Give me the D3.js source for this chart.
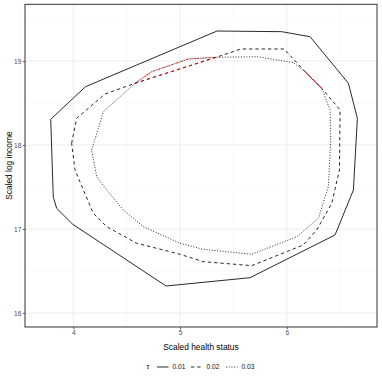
<!DOCTYPE html>
<html>
<head>
<meta charset="utf-8">
<script src="https://d3js.org/d3.v7.min.js"></script>
<style>
  body { margin: 0; background: #fff; }
  text { font-family: "Liberation Sans", Arial, sans-serif; }
</style>
</head>
<body>
<svg id="chart" width="382" height="382"></svg>
<script>
// tau levels and the contour for each one (health status, log income)
var tauLabels = ["0.01", "0.02", "0.03"];
var tauDash = ["none", "3.3,3", "1,1.7"];

var contour001 = [[3.788, 18.306], [4.114, 18.694], [5.347, 19.357], [5.953, 19.349],
  [6.219, 19.289], [6.578, 18.735], [6.662, 18.318], [6.625, 17.464], [6.453, 16.929],
  [5.656, 16.420], [4.869, 16.321], [3.994, 17.056], [3.844, 17.246], [3.812, 17.381]];

var contour002 = [[3.984, 18.020], [4.031, 18.318], [4.297, 18.607], [4.578, 18.735],
  [5.338, 19.044], [5.572, 19.143], [5.975, 19.143], [6.172, 18.873], [6.328, 18.675],
  [6.500, 18.417], [6.494, 17.702], [6.422, 17.306], [6.281, 16.988], [6.156, 16.810],
  [5.672, 16.563], [5.218, 16.611], [5.000, 16.699], [4.594, 16.830], [4.313, 17.027],
  [4.187, 17.187], [4.094, 17.464], [4.016, 17.702]];

var contour003 = [[4.172, 17.940], [4.281, 18.396], [4.578, 18.735], [4.735, 18.873],
  [5.078, 19.024], [5.338, 19.044], [5.728, 19.051], [6.062, 18.980], [6.172, 18.873],
  [6.328, 18.675], [6.406, 18.417], [6.412, 18.060], [6.390, 17.504], [6.297, 17.127],
  [6.094, 16.908], [5.672, 16.699], [5.218, 16.758], [5.000, 16.830], [4.656, 17.027],
  [4.469, 17.226], [4.313, 17.464], [4.219, 17.623]];

// pieces drawn in red
var redDashed = [
  [[4.578, 18.735], [5.338, 19.044]],
  [[6.172, 18.873], [6.328, 18.675]]
];
var redDotted = [
  [[4.578, 18.735], [4.735, 18.873], [5.078, 19.024], [5.338, 19.044]],
  [[6.172, 18.873], [6.328, 18.675]]
];

var xTicks = [4, 5, 6];
var yTicks = [16, 17, 18, 19];
var xMinor = [3.5, 4.5, 5.5, 6.5];
var yMinor = [16.5, 17.5, 18.5, 19.5];

var panel = {left: 25, top: 4.3, right: 377, bottom: 327};

var x = d3.scaleLinear().domain([3.547, 6.846]).range([panel.left, panel.right]);
var y = d3.scaleLinear().domain([15.833, 19.675]).range([panel.bottom, panel.top]);

var svg = d3.select('#chart');

// grid
var grid = svg.append('g');
grid.selectAll('.xminor').data(xMinor).enter().append('line')
  .attr('x1', d => x(d)).attr('x2', d => x(d))
  .attr('y1', panel.top).attr('y2', panel.bottom)
  .attr('stroke', '#F2F2F2').attr('stroke-width', 0.5);
grid.selectAll('.yminor').data(yMinor).enter().append('line')
  .attr('y1', d => y(d)).attr('y2', d => y(d))
  .attr('x1', panel.left).attr('x2', panel.right)
  .attr('stroke', '#F2F2F2').attr('stroke-width', 0.5);
grid.selectAll('.xmajor').data(xTicks).enter().append('line')
  .attr('x1', d => x(d)).attr('x2', d => x(d))
  .attr('y1', panel.top).attr('y2', panel.bottom)
  .attr('stroke', '#EBEBEB').attr('stroke-width', 0.9);
grid.selectAll('.ymajor').data(yTicks).enter().append('line')
  .attr('y1', d => y(d)).attr('y2', d => y(d))
  .attr('x1', panel.left).attr('x2', panel.right)
  .attr('stroke', '#EBEBEB').attr('stroke-width', 0.9);

// contours
var line = d3.line().x(d => x(d[0])).y(d => y(d[1]));
var contours = [contour001, contour002, contour003];
contours.forEach(function(c, i) {
  svg.append('path')
    .attr('d', line(c.concat([c[0]])))
    .attr('fill', 'none')
    .attr('stroke', '#111')
    .attr('stroke-width', 0.9)
    .attr('stroke-dasharray', tauDash[i] === 'none' ? null : tauDash[i]);
});

redDashed.forEach(function(seg) {
  svg.append('path').attr('d', line(seg))
    .attr('fill', 'none').attr('stroke', '#FF0000')
    .attr('stroke-width', 0.9).attr('stroke-dasharray', tauDash[1]);
});
redDotted.forEach(function(seg) {
  svg.append('path').attr('d', line(seg))
    .attr('fill', 'none').attr('stroke', '#FF0000')
    .attr('stroke-width', 0.9).attr('stroke-dasharray', tauDash[2]);
});

// panel border
svg.append('rect')
  .attr('x', panel.left).attr('y', panel.top)
  .attr('width', panel.right - panel.left).attr('height', panel.bottom - panel.top)
  .attr('fill', 'none').attr('stroke', '#333').attr('stroke-width', 1);

// axes
var xAxis = svg.append('g').attr('transform', 'translate(0,' + panel.bottom + ')')
  .call(d3.axisBottom(x).tickValues(xTicks).tickSize(2.2).tickPadding(1.5).tickFormat(d3.format('d')));
var yAxis = svg.append('g').attr('transform', 'translate(' + panel.left + ',0)')
  .call(d3.axisLeft(y).tickValues(yTicks).tickSize(2.2).tickPadding(1.5).tickFormat(d3.format('d')));
[xAxis, yAxis].forEach(function(a) {
  a.select('.domain').remove();
  a.selectAll('.tick line').attr('stroke', '#333').attr('stroke-width', 0.8);
  a.selectAll('.tick text').attr('fill', '#4D4D4D')
    .style('font-size', '6.6px').style('font-family', '"Liberation Sans", Arial, sans-serif');
});

svg.append('text')
  .attr('x', (panel.left + panel.right) / 2).attr('y', 350)
  .attr('text-anchor', 'middle').style('font-size', '8.4px')
  .text('Scaled health status');
svg.append('text')
  .attr('transform', 'translate(11.5,' + (panel.top + panel.bottom) / 2 + ') rotate(-90)')
  .attr('text-anchor', 'middle').style('font-size', '8.4px')
  .text('Scaled log income');

// legend
var legend = svg.append('g').attr('transform', 'translate(0,367)');
legend.append('text').attr('x', 146.5).attr('y', 2.4)
  .style('font-size', '7px').text('τ');
var keyX = [157, 191, 226];
tauLabels.forEach(function(lab, i) {
  legend.append('line')
    .attr('x1', keyX[i]).attr('x2', keyX[i] + 11.5)
    .attr('y1', 0).attr('y2', 0)
    .attr('stroke', '#111').attr('stroke-width', 0.9)
    .attr('stroke-dasharray', tauDash[i] === 'none' ? null : tauDash[i]);
  legend.append('text')
    .attr('x', keyX[i] + 15.5).attr('y', 2.3)
    .style('font-size', '6.6px').attr('fill', '#111')
    .text(lab);
});
</script>
</body>
</html>
